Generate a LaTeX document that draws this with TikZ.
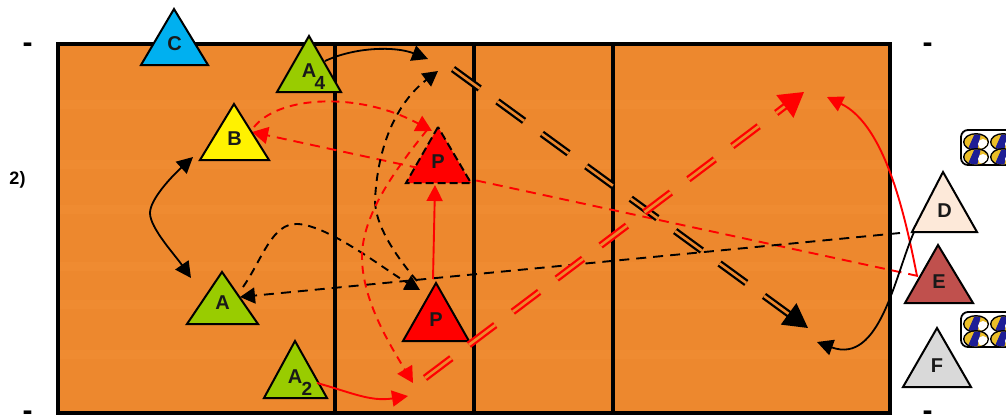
\documentclass[tikz,border=0pt]{standalone}
\usepackage{fontspec}
\setmainfont{Liberation Sans}
\usetikzlibrary{arrows.meta,calc}
\definecolor{court}{RGB}{237,136,46}
\definecolor{courtlt}{RGB}{239,139,49}
\definecolor{grn}{RGB}{153,204,0}
\definecolor{sky}{RGB}{0,176,240}
\definecolor{peach}{RGB}{253,233,217}
\definecolor{brick}{RGB}{192,80,77}
\definecolor{lgray}{RGB}{217,217,217}
\definecolor{navy1}{RGB}{30,30,150}
\definecolor{ballY}{RGB}{235,190,40}
\tikzset{
  x=1pt,y=-1pt,
  label/.style={font=\bfseries\fontsize{20}{20}\selectfont,inner sep=0pt,text=black!90},
  sublabel/.style={font=\bfseries\fontsize{19}{19}\selectfont,inner sep=0pt,text=black!90},
  mark text/.style={font=\bfseries\fontsize{30}{30}\selectfont,inner sep=0pt},
  tri/.style={draw=black,line width=2pt,line join=miter},
  courtline/.style={draw=black,line width=4pt},
  solidb/.style={draw=black,line width=1.8pt,-{Triangle[length=16pt,width=16pt]}},
  solidr/.style={draw=red,line width=1.9pt,-{Triangle[length=16pt,width=16pt]}},
  dashb/.style={draw=black,line width=1.9pt,dash pattern=on 8pt off 6pt,-{Triangle[length=15pt,width=16pt]}},
  dashr/.style={draw=red,line width=1.9pt,dash pattern=on 8pt off 6pt,-{Triangle[length=16pt,width=17pt]}},
  dblb/.style={draw=black,line width=2.3pt,double=court,double distance=2.6pt,dash pattern=on 33pt off 22pt,-{Triangle[length=24pt,width=26pt,fill=black]}},
  dblr/.style={draw=red,line width=2.3pt,double=court,double distance=2.6pt,dash pattern=on 33pt off 22pt,-{Triangle[length=24pt,width=28pt,fill=red]}},
}
\newcommand{\playertri}[8]{% name, apex x, apex y, left x, right x, base y, fill, label
  \path[tri,fill=#7] (#2,#3) -- (#4,#6) -- (#5,#6) -- cycle;
  \node[label] (#1) at ({(#4+#5)/2},{#6-21}) {#8};
}
\newcommand{\ballpair}[2]{% x, y
  \begin{scope}
    \clip (0,0) rectangle (1006,416);
    \draw[line width=1.8pt,fill=white,rounded corners=7pt] (#1,#2) rectangle (1030,#2+35);
    \foreach \bx in {15,42}{\foreach \by in {12,27}{
      \begin{scope}[shift={(#1+\bx,#2+\by)}]
      \fill[black] (0,0) ellipse [x radius=13pt,y radius=9pt];
      \begin{scope}
        \clip (0,0) ellipse [x radius=11.5pt,y radius=7.5pt];
        \fill[ballY] (-12,-9) rectangle (12,9);
        \fill[navy1] (-9,9) -- (-1,-9) -- (5,-9) -- (1,9) -- cycle;
        \fill[white] (7,2) ellipse [x radius=5pt,y radius=5pt];
      \end{scope}
      \end{scope}
    }}
  \end{scope}
}
\begin{document}
\begin{tikzpicture}
\useasboundingbox (0,0) rectangle (1006,416);
% court
\fill[court] (58,44) rectangle (890,413);
\foreach \yy in {100,160,205,262,300,350}{\fill[courtlt] (58,\yy) rectangle (890,\yy+9);}
\draw[courtline] (58,44) rectangle (890,413);
\draw[courtline] (335,44) -- (335,413);
\draw[courtline] (474,44) -- (474,413);
\draw[courtline] (613,44) -- (613,413);
% free connector ends
\coordinate (dblBs) at (453,69);
\coordinate (dblBe) at (808,328);
\coordinate (dblRs) at (425,378);
\coordinate (dblRe) at (804,92);
\coordinate (ebS) at (918,276);
\coordinate (ebE) at (252,132);
\coordinate (daS) at (900,233);
\coordinate (daE) at (240,297);
\coordinate (efS) at (917,276);
\coordinate (efE) at (827,97);
\coordinate (dfS) at (914,232);
\coordinate (dfE) at (817,342);
\coordinate (a4S) at (325,61);
\coordinate (a4E) at (428,59);
\coordinate (baT) at (193,157);
\coordinate (baB) at (191,278);
\coordinate (apS) at (243,287);
\coordinate (apE) at (420,290);
\coordinate (bigbE) at (438,71);
\coordinate (bigbS) at (417,281);
\coordinate (bigrS) at (427,130);
\coordinate (bigrE) at (413,383);
\coordinate (bpS) at (254,127);
\coordinate (bpE) at (432,131);
\coordinate (ppS) at (433,279);
\coordinate (ppE) at (435,185);
\coordinate (a2S) at (317,383);
\coordinate (a2E) at (408,396);
% long dashed passes, drawn under the players
\draw[dashr,dash pattern=on 10pt off 7pt] (ebS) -- (ebE);
\draw[dashb,dash pattern=on 10pt off 7pt] (daS) -- (daE);
% players
\playertri{nC}{174}{9}{141}{208}{65}{sky}{C}
\playertri{nA4}{309}{36}{277}{341}{92}{grn}{}
\node[label] at (309,71) {A};
\node[sublabel] at (320,83) {4};
\playertri{nB}{234}{104}{200}{269}{160}{yellow}{B}
\path[tri,fill=red,dash pattern=on 8pt off 4pt] (438,127) -- (406,183) -- (471,183) -- cycle;
\node[label] (nP1) at (438,162) {P};
\playertri{nA}{222}{272}{187}{258}{324}{grn}{A}
\playertri{nA2}{295}{341}{264}{327}{398}{grn}{}
\node[label] at (295,377) {A};
\node[sublabel] at (307,389) {2};
\playertri{nP2}{436}{283}{403}{469}{341}{red}{P}
\playertri{nD}{943}{172}{912}{977}{232}{peach}{D}
\playertri{nE}{938}{245}{905}{973}{303}{brick}{E}
\playertri{nF}{937}{328}{903}{971}{387}{lgray}{F}
% curved connectors
\draw[solidb] (a4S) .. controls (355,47) and (395,46) .. (a4E);
\draw[solidb,{Triangle[length=16pt,width=16pt]}-{Triangle[length=16pt,width=16pt]}] (baT) .. controls (170,178) and (150,200) .. (150,213) .. controls (150,228) and (175,255) .. (baB);
\draw[dashb] (apS) .. controls (262,260) and (272,222) .. (298,224) .. controls (330,226) and (385,270) .. (apE);
\draw[dashb] (bigbS) .. controls (395,255) and (375,225) .. (375,200) .. controls (378,140) and (400,100) .. (bigbE);
\draw[dashr] (bigrS) .. controls (395,170) and (362,215) .. (362,257) .. controls (362,300) and (390,345) .. (bigrE);
\draw[dashr] (bpS) .. controls (280,95) and (360,92) .. (bpE);
\draw[solidr] (ppS) -- (ppE);
\draw[solidr] (a2S) .. controls (350,392) and (370,402) .. (a2E);
\draw[solidr] (efS) .. controls (905,215) and (885,125) .. (efE);
\draw[solidb] (dfS) .. controls (895,275) and (880,365) .. (dfE);
% passes
\draw[dblb] (dblBs) -- (dblBe);
\draw[dblr] (dblRs) -- (dblRe);
% balls
\ballpair{961}{130}
\ballpair{961}{312}
% side marks
\node[font=\bfseries\fontsize{18}{18}\selectfont,inner sep=0pt] (lab2) at (17.5,180) {2)};
\node[mark text] (m1) at (27.5,48) {-};
\node[mark text] (m2) at (927.5,48) {-};
\node[mark text] (m3) at (27.5,416) {-};
\node[mark text] (m4) at (927.5,416) {-};
\end{tikzpicture}
\end{document}
